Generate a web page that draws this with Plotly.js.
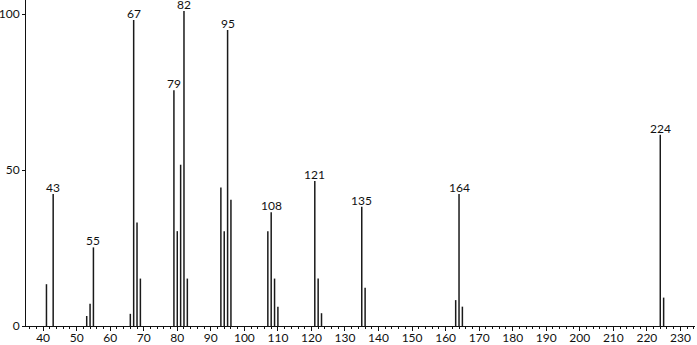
<!DOCTYPE html>
<html>
<head>
<meta charset="utf-8">
<script src="https://cdn.plot.ly/plotly-3.0.1.min.js"></script>
<style>html,body{margin:0;padding:0;background:#fff;}#chart{width:697px;height:345px;}</style>
</head>
<body>
<div id="chart"></div>
<script>
// m/z values and relative intensities
const mz = [41, 43, 53, 54, 55, 66, 67, 68, 69, 79, 80, 81, 82, 83, 93, 94, 95, 96,
            107, 108, 109, 110, 121, 122, 123, 135, 136, 163, 164, 165, 224, 225];
const intensity = [13.4, 42.3, 3.2, 7.1, 25.2, 3.9, 98.1, 33.2, 15.2, 75.6, 30.4, 51.7, 101, 15.2,
                   44.4, 30.4, 94.9, 40.5, 30.4, 36.5, 15.2, 6.2, 46.5, 15.2, 4.1, 38.2, 12.3,
                   8.3, 42.3, 6.2, 61.3, 9.1];
const labeledPeaks = [43, 55, 67, 79, 82, 95, 108, 121, 135, 164, 224];

const xs = [], ys = [];
mz.forEach((m, i) => { xs.push(m, m, null); ys.push(0, intensity[i], null); });

const font = {family: 'Lato, "DejaVu Sans", sans-serif', size: 12, color: '#111'};

const annotations = labeledPeaks.map(p => ({
  x: p, y: intensity[mz.indexOf(p)], text: String(p),
  xref: 'x', yref: 'y', showarrow: false, yanchor: 'bottom', xanchor: 'center',
  font: font, borderpad: 0, yshift: -2
}));

const traces = [
  {x: xs, y: ys, type: 'scatter', mode: 'lines', line: {color: '#1a1a1a', width: 1.5},
   hoverinfo: 'skip', showlegend: false}
];

const layout = {
  width: 697, height: 345,
  margin: {l: 26, r: 2, t: 0, b: 19},
  paper_bgcolor: '#fff', plot_bgcolor: '#fff',
  font: font,
  showlegend: false,
  annotations: annotations,
  xaxis: {
    range: [34.9, 234.35], showgrid: false, zeroline: false,
    showline: true, linecolor: '#111', linewidth: 1,
    ticks: 'outside', ticklen: 4, tickcolor: '#111', tickwidth: 1,
    dtick: 10, tick0: 0, tickfont: font, ticklabelstandoff: -3,
    minor: {dtick: 2, tick0: 0, ticks: 'outside', ticklen: 2, tickcolor: '#111', showgrid: false}
  },
  yaxis: {
    range: [0, 104.5], showgrid: false, zeroline: false,
    showline: true, linecolor: '#111', linewidth: 1,
    ticks: 'outside', ticklen: 3, tickcolor: '#111',
    tickvals: [0, 50, 100], ticktext: ['0', '50', '100'], tickfont: font
  }
};

Plotly.newPlot('chart', traces, layout, {displayModeBar: false, staticPlot: true});
</script>
</body>
</html>
